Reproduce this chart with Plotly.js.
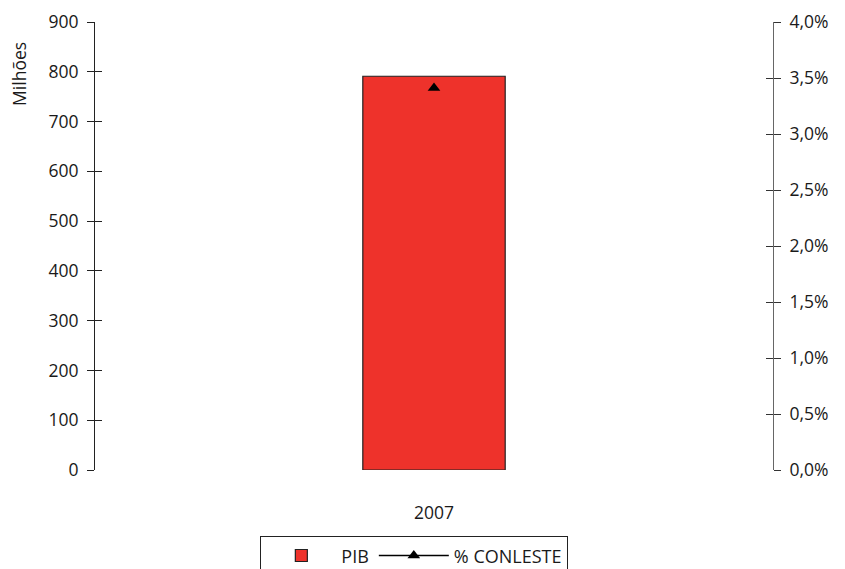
<!DOCTYPE html>
<html>
<head>
<meta charset="utf-8">
<script src="https://cdn.plot.ly/plotly-3.0.1.min.js"></script>
<style>html,body{margin:0;padding:0;background:#fff;}</style>
</head>
<body>
<div id="chart" style="width:845px;height:569px;"></div>
<script>
const categories = ['2007'];
const pibValues = [791];
const conlestePct = [0.0341];
const leftTicks = [0,100,200,300,400,500,600,700,800,900];
const rightTicks = [0,0.005,0.01,0.015,0.02,0.025,0.03,0.035,0.04];

const font = {family: 'Open Sans, Noto Sans, sans-serif', size: 17.5, color: '#1a1a1a'};
const legendFont = {family: 'Open Sans, Noto Sans, sans-serif', size: 18, color: '#1a1a1a'};

const traces = [
  {type: 'bar', x: categories, y: pibValues, name: 'PIB',
   marker: {color: '#EE322B', line: {color: '#222', width: 1.2}}, width: 0.21},
  {type: 'scatter', mode: 'lines+markers', x: categories, y: conlestePct, yaxis: 'y2',
   name: '% CONLESTE', line: {color: '#000', width: 1.5},
   marker: {symbol: 'triangle-up', size: 11, color: '#000'}},
  {type: 'scatter', x: categories, y: [null], yaxis: 'y3', showlegend: false, hoverinfo: 'skip'},
  {type: 'scatter', x: categories, y: [null], yaxis: 'y4', showlegend: false, hoverinfo: 'skip'}
];

const layout = {
  width: 845, height: 569,
  margin: {l: 95, r: 72, t: 22, b: 99, autoexpand: false},
  paper_bgcolor: '#fff', plot_bgcolor: '#fff',
  font: font,
  separators: ',.',
  showlegend: true,
  bargap: 0,
  xaxis: {type: 'category', range: [-0.5, 0.5], showline: false, ticks: '', automargin: false,
          showgrid: false, zeroline: false, ticklabelstandoff: 30, tickfont: font},
  yaxis: {range: [0, 900], tickvals: leftTicks, showgrid: false, zeroline: false, automargin: false,
          showline: true, linecolor: '#222', linewidth: 1,
          ticks: 'outside', ticklen: 7, tickcolor: '#222', tickfont: font, ticklabelstandoff: 5},
  yaxis2: {range: [0, 0.04], tickvals: rightTicks, tickformat: '.1%', overlaying: 'y', side: 'right',
          showgrid: false, zeroline: false, showline: true, linecolor: '#666', linewidth: 1, automargin: false,
          ticks: 'outside', ticklen: 7, tickcolor: '#333', tickfont: font, ticklabelstandoff: 5},
  yaxis3: {range: [0, 900], tickvals: leftTicks, overlaying: 'y', side: 'left', showgrid: false, automargin: false,
          zeroline: false, showline: false, showticklabels: false, ticks: 'inside', ticklen: 7, tickcolor: '#222'},
  yaxis4: {range: [0, 0.04], tickvals: rightTicks, overlaying: 'y', side: 'right', showgrid: false, automargin: false,
          zeroline: false, showline: false, showticklabels: false, ticks: 'inside', ticklen: 7, tickcolor: '#333'},
  legend: {orientation: 'h', x: 0.471, xanchor: 'center', y: -0.148, yanchor: 'top',
           bordercolor: '#222', borderwidth: 1, font: legendFont, traceorder: 'normal',
           itemwidth: 70, tracegroupgap: 0},
  annotations: [{text: 'Milhões', xref: 'paper', yref: 'paper', x: -0.113, y: 0.885,
                 xanchor: 'center', yanchor: 'middle', textangle: -90, showarrow: false, font: font}]
};

Plotly.newPlot('chart', traces, layout, {displayModeBar: false, staticPlot: true});
</script>
</body>
</html>
